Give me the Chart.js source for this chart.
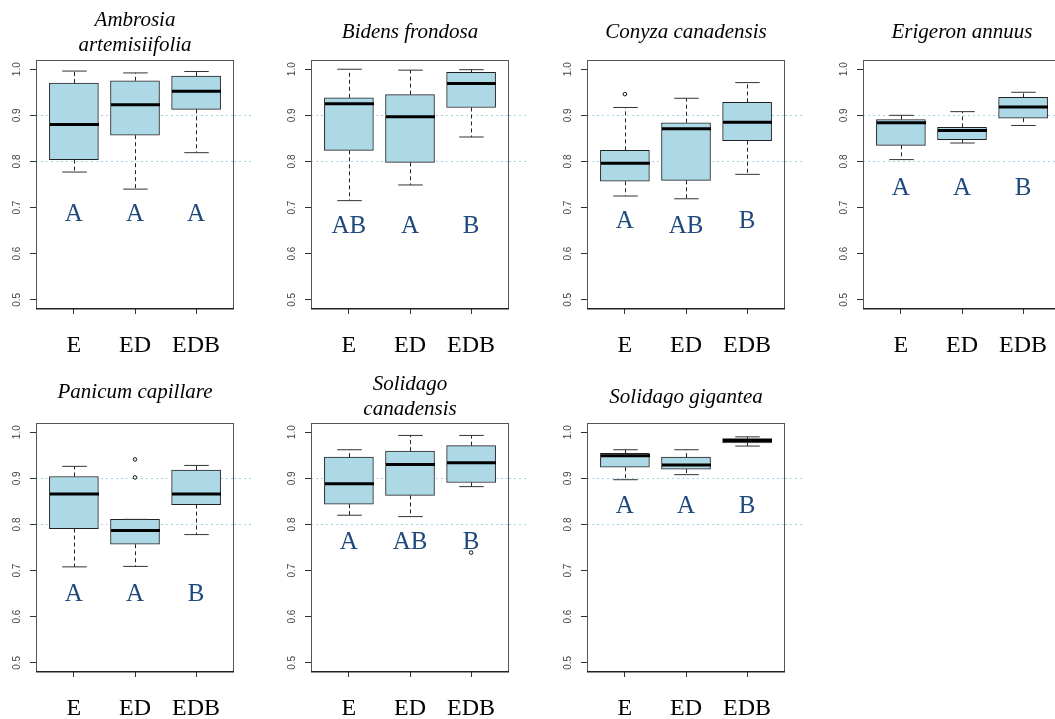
<!DOCTYPE html>
<html>
<head>
<meta charset="utf-8">
<script src="https://cdn.jsdelivr.net/npm/chart.js@4.4.1/dist/chart.umd.min.js"></script>
<style>
  html, body { margin: 0; padding: 0; background: #fff; overflow: hidden; width: 1055px; height: 719px; }
  canvas { position: absolute; }
</style>
</head>
<body>
<script>
// ---------- DATA ----------
const groups = ['E', 'ED', 'EDB'];
const yTickValues = [0.5, 0.6, 0.7, 0.8, 0.9, 1.0];
const referenceLines = [0.8, 0.9];
const speciesNames = [
  ['Ambrosia', 'artemisiifolia'],
  'Bidens frondosa',
  'Conyza canadensis',
  'Erigeron annuus',
  'Panicum capillare',
  ['Solidago', 'canadensis'],
  'Solidago gigantea'
];
const lowerWhisker = [
  [0.777, 0.740, 0.819],
  [0.715, 0.749, 0.853],
  [0.725, 0.719, 0.772],
  [0.804, 0.840, 0.878],
  [0.708, 0.709, 0.778],
  [0.820, 0.817, 0.882],
  [0.897, 0.908, 0.970]
];
const lowerQuartile = [
  [0.804, 0.857, 0.913],
  [0.824, 0.798, 0.917],
  [0.757, 0.759, 0.845],
  [0.835, 0.847, 0.894],
  [0.791, 0.757, 0.843],
  [0.844, 0.863, 0.891],
  [0.924, 0.920, 0.977]
];
const medians = [
  [0.880, 0.923, 0.952],
  [0.925, 0.897, 0.969],
  [0.796, 0.871, 0.885],
  [0.884, 0.867, 0.918],
  [0.866, 0.787, 0.866],
  [0.888, 0.930, 0.934],
  [0.949, 0.929, 0.982]
];
const upperQuartile = [
  [0.970, 0.975, 0.985],
  [0.938, 0.945, 0.993],
  [0.824, 0.884, 0.928],
  [0.891, 0.874, 0.939],
  [0.904, 0.811, 0.918],
  [0.946, 0.959, 0.971],
  [0.954, 0.946, 0.986]
];
const upperWhisker = [
  [0.996, 0.992, 0.995],
  [1.000, 0.998, 0.999],
  [0.917, 0.937, 0.971],
  [0.900, 0.908, 0.950],
  [0.926, 0.811, 0.928],
  [0.962, 0.993, 0.993],
  [0.962, 0.962, 0.990]
];
const outliers = [
  [[], [], []],
  [[], [], []],
  [[0.946], [], []],
  [[], [], []],
  [[], [0.941, 0.902], []],
  [[], [], [0.739]],
  [[], [], []]
];
const letters = [
  ['A', 'A', 'A'],
  ['AB', 'A', 'B'],
  ['A', 'AB', 'B'],
  ['A', 'A', 'B'],
  ['A', 'A', 'B'],
  ['A', 'AB', 'B'],
  ['A', 'A', 'B']
];
const letterLevels = [
  [0.684, 0.684, 0.684],
  [0.660, 0.660, 0.660],
  [0.669, 0.660, 0.669],
  [0.741, 0.741, 0.741],
  [0.649, 0.649, 0.649],
  [0.760, 0.760, 0.760],
  [0.838, 0.838, 0.838]
];

// ---------- LAYOUT (not data) ----------
const panelLeft = [0, 275, 551, 827, 0, 275, 551];
const panelTop = [0, 0, 0, 0, 363, 363, 363];
const titleCenter = [32.5, 32.7, 32.7, 32.7, 29.5, 34, 34.5];
const CANVAS_W = 270, CANVAS_H = 363;
const PLOT_LEFT = 36, PLOT_RIGHT = 234, PLOT_TOP = 60, PLOT_BOTTOM = 309;
const BOX_W = 49;
const TITLE_LH = 25;
const REF_COLOR = '#a6d3e8';

const extrasPlugin = {
  id: 'boxExtras',
  afterDatasetsDraw(chart, args, opts) {
    const s = opts.index;
    const { ctx, scales: { x, y } } = chart;
    ctx.save();
    const half = BOX_W / 2;
    const seg = (x1, y1, x2, y2) => { ctx.beginPath(); ctx.moveTo(x1, y1); ctx.lineTo(x2, y2); ctx.stroke(); };
    groups.forEach((g, i) => {
      const cx = Math.round(x.getPixelForValue(i + 1)) + 0.5;
      const yHi = y.getPixelForValue(upperWhisker[s][i]);
      const yQ3 = y.getPixelForValue(upperQuartile[s][i]);
      const yQ1 = y.getPixelForValue(lowerQuartile[s][i]);
      const yLo = y.getPixelForValue(lowerWhisker[s][i]);
      const yMed = y.getPixelForValue(medians[s][i]);
      ctx.strokeStyle = '#222';
      ctx.lineWidth = 1;
      ctx.setLineDash([4, 3]);
      if (yHi < yQ3 - 0.5) seg(cx, yQ3, cx, yHi);
      if (yLo > yQ1 + 0.5) seg(cx, yQ1, cx, yLo);
      ctx.setLineDash([]);
      ctx.strokeStyle = '#333';
      seg(cx - half / 2, yHi, cx + half / 2, yHi);
      seg(cx - half / 2, yLo, cx + half / 2, yLo);
      ctx.strokeStyle = '#000';
      ctx.lineWidth = 3;
      seg(cx - half, yMed, cx + half, yMed);
    });
    ctx.restore();
  },
  afterDraw(chart, args, opts) {
    const s = opts.index;
    const { ctx, chartArea: a, scales: { x, y } } = chart;
    ctx.save();
    // dotted reference lines continue a little past the right edge of the frame
    ctx.strokeStyle = REF_COLOR;
    ctx.lineWidth = 1;
    ctx.setLineDash([2, 3]);
    referenceLines.forEach(r => {
      const py = Math.round(y.getPixelForValue(r)) + 0.5;
      ctx.beginPath();
      ctx.moveTo(a.right, py);
      ctx.lineTo(a.right + 20, py);
      ctx.stroke();
    });
    ctx.setLineDash([]);
    // frame
    ctx.strokeStyle = '#555';
    ctx.lineWidth = 1;
    ctx.strokeRect(a.left + 0.5, a.top + 0.5, a.right - a.left - 1, a.bottom - a.top - 1);
    ctx.strokeStyle = '#222';
    ctx.lineWidth = 1.5;
    ctx.beginPath();
    ctx.moveTo(a.left, a.bottom - 0.25);
    ctx.lineTo(a.right, a.bottom - 0.25);
    ctx.stroke();
    // significance letters
    ctx.fillStyle = '#1f497d';
    ctx.font = '25px "Liberation Serif", "Times New Roman", serif';
    ctx.textAlign = 'center';
    ctx.textBaseline = 'middle';
    groups.forEach((g, i) => {
      ctx.fillText(letters[s][i], x.getPixelForValue(i + 1), y.getPixelForValue(letterLevels[s][i]));
    });
    ctx.restore();
  }
};

speciesNames.forEach((name, s) => {
  const canvas = document.createElement('canvas');
  canvas.width = CANVAS_W;
  canvas.height = CANVAS_H;
  canvas.style.left = panelLeft[s] + 'px';
  canvas.style.top = panelTop[s] + 'px';
  canvas.style.width = CANVAS_W + 'px';
  canvas.style.height = CANVAS_H + 'px';
  document.body.appendChild(canvas);

  const nLines = Array.isArray(name) ? name.length : 1;
  const titleTopPad = titleCenter[s] - nLines * TITLE_LH / 2;
  const titleBottomPad = PLOT_TOP - titleTopPad - nLines * TITLE_LH;

  const boxData = groups.map((g, i) => ({ x: i + 1, y: [lowerQuartile[s][i], upperQuartile[s][i]] }));
  const outlierData = [];
  groups.forEach((g, i) => outliers[s][i].forEach(v => outlierData.push({ x: i + 1, y: v })));

  new Chart(canvas, {
    type: 'bar',
    data: {
      datasets: [
        {
          type: 'bar',
          data: boxData,
          backgroundColor: '#add8e6',
          borderColor: '#222',
          borderWidth: 1,
          borderSkipped: false,
          barThickness: BOX_W
        },
        {
          type: 'scatter',
          data: outlierData,
          pointStyle: 'circle',
          pointRadius: 1.8,
          pointBorderWidth: 1,
          pointBorderColor: '#111',
          pointBackgroundColor: 'rgba(0,0,0,0)'
        }
      ]
    },
    options: {
      responsive: false,
      animation: false,
      devicePixelRatio: 1,
      layout: { padding: { left: 0, right: CANVAS_W - PLOT_RIGHT, top: titleTopPad, bottom: 0 } },
      plugins: {
        legend: { display: false },
        tooltip: { enabled: false },
        title: {
          display: true,
          text: name,
          fullSize: false,
          color: '#000',
          font: { family: '"Liberation Serif", "Times New Roman", serif', style: 'italic', size: 21, weight: 'normal', lineHeight: TITLE_LH + 'px' },
          padding: { top: 0, bottom: titleBottomPad }
        },
        boxExtras: { index: s }
      },
      scales: {
        x: {
          type: 'linear',
          min: 0.38,
          max: 3.62,
          offset: false,
          afterBuildTicks: sc => { sc.ticks = groups.map((g, i) => ({ value: i + 1 })); },
          afterFit: sc => { sc.height = CANVAS_H - PLOT_BOTTOM; },
          ticks: {
            autoSkip: false,
            maxRotation: 0,
            minRotation: 0,
            padding: 17,
            color: '#000',
            font: { family: '"Liberation Serif", "Times New Roman", serif', size: 24 },
            callback: v => groups[v - 1]
          },
          grid: { offset: false, drawOnChartArea: false, drawTicks: true, tickLength: 5, color: '#333', lineWidth: 1 },
          border: { display: false }
        },
        y: {
          type: 'linear',
          min: 0.48,
          max: 1.02,
          afterBuildTicks: sc => { sc.ticks = yTickValues.map(v => ({ value: v })); },
          afterFit: sc => { sc.width = PLOT_LEFT; },
          ticks: {
            minRotation: 90,
            maxRotation: 90,
            crossAlign: 'center',
            padding: 6,
            color: '#444',
            font: { family: '"Liberation Sans", Arial, sans-serif', size: 10 },
            callback: v => v.toFixed(1)
          },
          grid: {
            drawOnChartArea: true,
            drawTicks: true,
            tickLength: 6,
            tickColor: '#333',
            color: c => (c.tick && referenceLines.some(r => Math.abs(r - c.tick.value) < 1e-6)) ? REF_COLOR : 'rgba(0,0,0,0)',
            lineWidth: 1,
            tickBorderDash: []
          },
          border: { display: false, dash: [2, 3] }
        }
      }
    },
    plugins: [extrasPlugin]
  });
});
</script>
</body>
</html>
